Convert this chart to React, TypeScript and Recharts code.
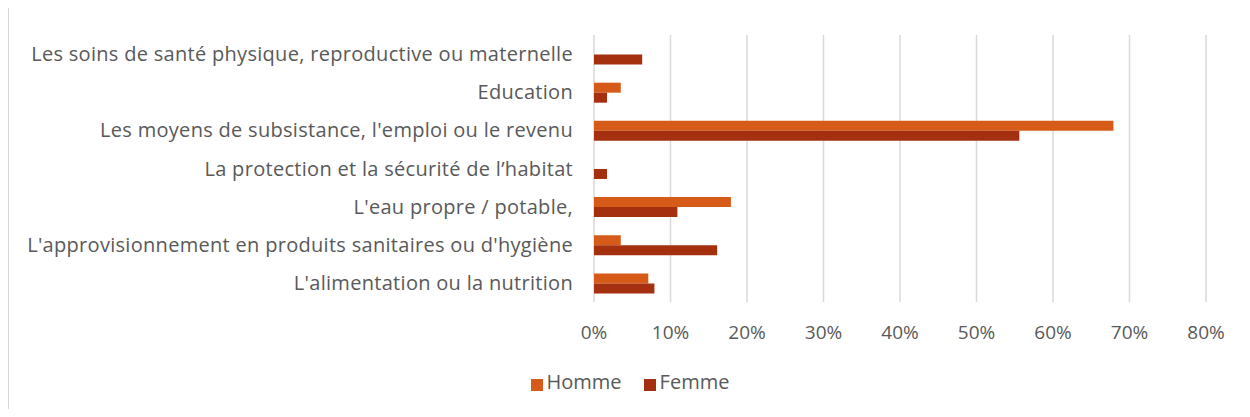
import { BarChart, Bar, XAxis, YAxis, CartesianGrid, Legend } from "recharts";

const categories = [
  "Les soins de santé physique, reproductive ou maternelle",
  "Education",
  "Les moyens de subsistance, l'emploi ou le revenu",
  "La protection et la sécurité de l’habitat",
  "L'eau propre / potable,",
  "L'approvisionnement en produits sanitaires ou d'hygiène",
  "L'alimentation ou la nutrition",
];
const homme = [0, 0.035, 0.679, 0, 0.179, 0.035, 0.071];
const femme = [0.063, 0.017, 0.556, 0.017, 0.109, 0.161, 0.079];
const xTicks = [0, 0.1, 0.2, 0.3, 0.4, 0.5, 0.6, 0.7, 0.8];
const seriesOrder = ["Homme", "Femme"];

const data = categories.map((name, i) => ({
  name,
  Homme: homme[i],
  Femme: femme[i],
}));

const FONT = "'Open Sans', sans-serif";
const TEXT = "#595959";

export default function App() {
  return (
    <div
      style={{
        position: "relative",
        margin: -8,
        width: 1250,
        height: 417,
        background: "#fff",
        fontFamily: FONT,
        overflow: "hidden",
      }}
    >
      {/* chart frame, only top/left edges are visible */}
      <div
        style={{
          position: "absolute",
          left: 8,
          top: 5,
          width: 1260,
          height: 430,
          border: "1px solid #D9D9D9",
        }}
      />
      <BarChart
        width={1250}
        height={417}
        data={data}
        layout="vertical"
        margin={{ top: 35, right: 44, bottom: 75, left: 0 }}
        barCategoryGap="25%"
        barGap={0}
      >
        <CartesianGrid
          horizontal={false}
          stroke="#D9D9D9"
          strokeWidth={1.5}
        />
        <XAxis
          type="number"
          domain={[0, 0.8]}
          ticks={xTicks}
          tickFormatter={(v: number) => `${Math.round(v * 100)}%`}
          axisLine={false}
          tickLine={false}
          tickSize={0}
          tickMargin={24}
          height={40}
          tick={{ fill: TEXT, fontSize: 19, fontFamily: FONT }}
        />
        <YAxis
          type="category"
          dataKey="name"
          width={594}
          axisLine={false}
          tickLine={false}
          tickSize={0}
          tickMargin={21}
          interval={0}
          tick={{ fill: TEXT, fontSize: 20, fontFamily: FONT, letterSpacing: 0.3 }}
        />
        <Legend
          layout="horizontal"
          verticalAlign="middle"
          align="center"
          iconType="square"
          iconSize={12}
          itemSorter={(item: any) => seriesOrder.indexOf(item.value)}
          wrapperStyle={{ top: 368, left: 16, width: 1250 }}
          formatter={(value: string) => (
            <span style={{ color: TEXT, fontSize: 20, fontFamily: FONT, marginRight: 12 }}>
              {value}
            </span>
          )}
        />
        <Bar dataKey="Homme" fill="#D65A18" isAnimationActive={false} />
        <Bar dataKey="Femme" fill="#A5300F" isAnimationActive={false} />
      </BarChart>
    </div>
  );
}
